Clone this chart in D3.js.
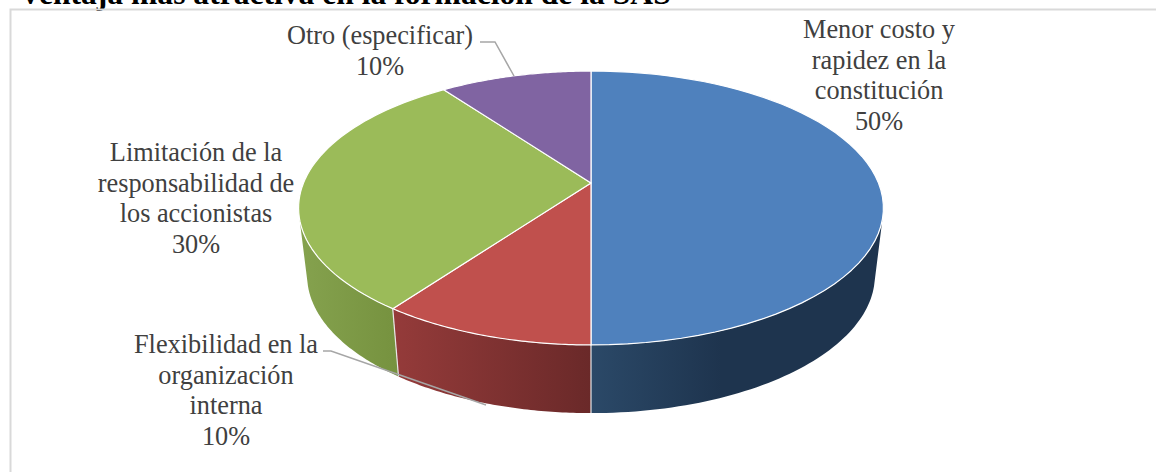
<!DOCTYPE html>
<html>
<head>
<meta charset="utf-8">
<script src="https://cdnjs.cloudflare.com/ajax/libs/d3/7.8.5/d3.min.js"></script>
<style>
  html, body { margin: 0; padding: 0; background: #fff; overflow: hidden; }
  text { font-family: "Liberation Serif", serif; }
</style>
</head>
<body>
<div id="chart"></div>
<script>
const categories = ['Menor costo y rapidez en la constitución', 'Flexibilidad en la organización interna', 'Limitación de la responsabilidad de los accionistas', 'Otro (especificar)'];
const values = [50, 10, 30, 10];
const topColors = ['#4f81bd', '#c0504d', '#9bbb59', '#8064a2'];
const labelLines = [
    ['Menor costo y', 'rapidez en la', 'constitución', '50%'],
    ['Flexibilidad en la', 'organización', 'interna', '10%'],
    ['Limitación de la', 'responsabilidad de', 'los accionistas', '30%'],
    ['Otro (especificar)', '10%']
];
const titleText = 'Ventaja más atractiva en la formación de la SAS';

const width = 1156, height = 472;
const svg = d3.select('#chart').append('svg').attr('width', width).attr('height', height);

// title is cut by the top of the picture
svg.append('text').attr('x', 19).attr('y', 4)
    .attr('font-size', 31.6).attr('font-weight', 'bold').attr('fill', '#000').text(titleText);

// chart frame, no right or bottom side in the picture
svg.append('path').attr('d', 'M10.5,472V9.5H1156').attr('fill', 'none').attr('stroke', '#d9d9d9').attr('stroke-width', 2);

// perspective of the disc: apex sits above the middle of the ellipse
const apex = {x: 591, y: 183};
const pie3d = {a: 287.5, b: 132.4, k: 0.1825, bottomX: 0.971, bottomY: 1.007, depthY: 67};

const pie = d3.pie().value(d => d).sort(null);
const arcs = pie(values);

const project = (angle, level) => {
    const u = Math.sin(angle), v = -Math.cos(angle);
    const w = 1 - pie3d.k * v;
    const sx = level === 0 ? 1 : pie3d.bottomX;
    const sy = level === 0 ? 1 : pie3d.bottomY;
    const off = level === 0 ? 0 : pie3d.depthY;
    return [apex.x + sx * pie3d.a * u / w, apex.y + off + sy * pie3d.b * v / w];
};
const sample = (a0, a1, level) => d3.range(0, 61).map(i => project(a0 + (a1 - a0) * i / 60, level));
const line = d3.line();

const defs = svg.append('defs');
const grad = (id, x1, x2, stops) => {
    const g = defs.append('linearGradient').attr('id', id).attr('gradientUnits', 'userSpaceOnUse')
        .attr('x1', x1).attr('x2', x2).attr('y1', 0).attr('y2', 0);
    stops.forEach(([o, c]) => g.append('stop').attr('offset', o).attr('stop-color', c));
};
grad('wall0', 591, 880, [[0, '#2b4968'], [0.45, '#1e344e'], [1, '#1e344e']]);
grad('wall1', 392, 591, [[0, '#953b3a'], [1, '#6a2929']]);
grad('wall2', 300, 397, [[0, '#85a24e'], [1, '#76923f']]);

// visible part of the side wall of each slice
const rad = d => d * Math.PI / 180;
const walls = [
    {i: 2, from: arcs[2].startAngle, to: rad(255), fill: 'url(#wall2)'},
    {i: 1, from: arcs[1].startAngle, to: arcs[1].endAngle, fill: 'url(#wall1)'},
    {i: 0, from: rad(105), to: arcs[0].endAngle, fill: 'url(#wall0)'}
];
svg.append('g').selectAll('path').data(walls).join('path')
    .attr('d', d => line(sample(d.from, d.to, 0).concat(sample(d.to, d.from, 1))) + 'Z')
    .attr('fill', d => d.fill);

// edges between the walls
svg.append('g').selectAll('line').data([arcs[0].endAngle, arcs[1].endAngle]).join('line')
    .attr('x1', d => project(d, 0)[0]).attr('y1', d => project(d, 0)[1])
    .attr('x2', d => project(d, 1)[0]).attr('y2', d => project(d, 1)[1])
    .attr('stroke', '#e8e8e8').attr('stroke-width', 1.2);

// top of the disc
svg.append('g').selectAll('path').data(arcs).join('path')
    .attr('d', d => line([[apex.x, apex.y]].concat(sample(d.startAngle, d.endAngle, 0))) + 'Z')
    .attr('fill', (d, i) => topColors[i])
    .attr('stroke', '#fff').attr('stroke-width', 1.2).attr('stroke-linejoin', 'round');

// leader lines
const leaders = [
    [[480, 42], [495, 42], [514, 76]],
    [[323, 351], [331, 351], [486, 405]]
];
svg.append('g').selectAll('path').data(leaders).join('path')
    .attr('d', d => line(d)).attr('fill', 'none').attr('stroke', '#a6a6a6').attr('stroke-width', 1.5);

// labels
const labelPos = [[879, 38], [226, 353], [196, 161], [380, 44]];
const labels = svg.append('g').selectAll('text').data(labelLines).join('text')
    .attr('text-anchor', 'middle').attr('font-size', 26.3).attr('fill', '#404040')
    .attr('transform', (d, i) => `translate(${labelPos[i][0]},${labelPos[i][1]})`);
labels.selectAll('tspan').data(d => d).join('tspan')
    .attr('x', 0).attr('y', (d, i) => i * 30.5).text(d => d);
</script>
</body>
</html>
